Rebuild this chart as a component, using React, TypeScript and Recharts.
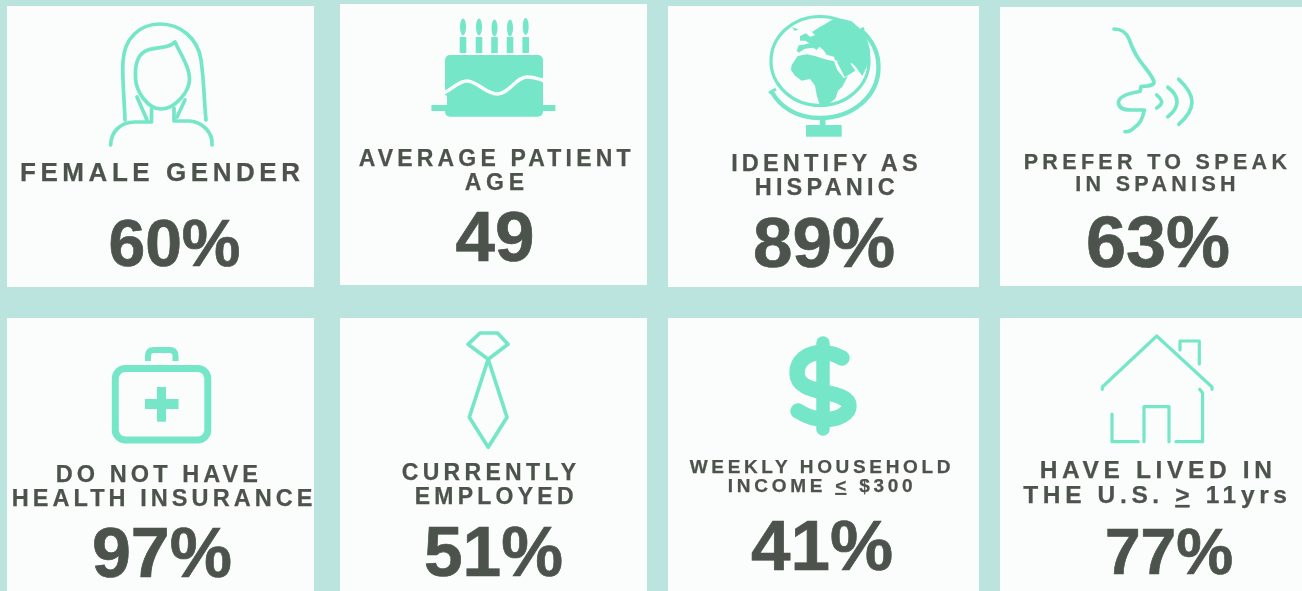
import React from "react";
import { ScatterChart, Scatter, XAxis, YAxis } from "recharts";

// ---- content ----
const labels: string[][] = [
  ["FEMALE GENDER"],
  ["AVERAGE PATIENT", "AGE"],
  ["IDENTIFY AS", "HISPANIC"],
  ["PREFER TO SPEAK", "IN SPANISH"],
  ["DO NOT HAVE", "HEALTH INSURANCE"],
  ["CURRENTLY", "EMPLOYED"],
  ["WEEKLY HOUSEHOLD", "INCOME < $300"],
  ["HAVE LIVED IN", "THE U.S. > 11yrs"],
];
const values = ["60%", "49", "89%", "63%", "97%", "51%", "41%", "77%"];

// ---- layout and style ----
const W = 1302;
const H = 591;
const BG = "#bbe4df";
const CARD = "#fbfdfc";
const ICON = "#76e6c8";
const INK = "#4c534c";
const FONT = "'Liberation Sans', Arial, sans-serif";

// left, top, right, bottom
const cardBoxes = [
  [7, 6, 314, 287], [340, 4, 647, 285], [668, 6, 979, 287], [1000, 7, 1302, 286],
  [7, 318, 314, 591], [340, 318, 647, 591], [668, 318, 979, 591], [1000, 318, 1302, 591],
];
// per line: left, right, baseline, font size
const labelBoxes = [
  [[20, 300, 181, 26]],
  [[358.7, 630.5, 165.5, 23], [464.7, 524, 190, 23]],
  [[731.2, 917.6, 171, 23.5], [754.7, 894.7, 195, 23.5]],
  [[1023.7, 1287, 169, 21.5], [1075.2, 1235.6, 191, 21.5]],
  [[55.7, 258, 482, 23.5], [11.7, 312.5, 506, 23.5]],
  [[401.7, 576, 479.5, 23], [414.7, 573.5, 503.5, 23]],
  [[689.7, 950.5, 473, 19], [727.7, 912.7, 492, 19]],
  [[1039.7, 1272, 478, 24.5], [1023.2, 1287, 503, 24.5]],
];
// per value: centre, baseline, font size
const valueBoxes = [
  [174.5, 266, 66], [495, 261, 71], [824, 267, 71], [1158, 267, 72],
  [162, 577, 70], [493.5, 576, 69.5], [822, 570, 71], [1169, 574, 64],
];

const line = { fill: "none", stroke: ICON, strokeWidth: 3.7, strokeLinecap: "round" as const, strokeLinejoin: "round" as const };

function Woman() {
  return (
    <g {...line}>
      <path d="M125 120 C124 95 122 75 123 62 C124 38 140 24 160 24 C180 24 198 38 201 60 C204 80 204 100 206 120" />
      <path d="M175 42 C168 50 152 46 144 52 C136 57 135 68 135.5 78 C136 92 148 109 161 109 C175 109 189 92 189.5 80 C190 68 181 55 175 42Z" />
      <path d="M137 97 L147 120" />
      <path d="M151.5 109 V122 H135 C120 122 111 132 110.7 145" />
      <path d="M174 108 V121 H189.5 C203 122 213 133 212 145" />
      <path d="M185 100 L177 117" />
    </g>
  );
}
function Cake() {
  const candles = [[463, 27], [479, 27], [494.5, 28], [510, 28], [525.7, 26.5]];
  return (
    <g fill={ICON}>
      {candles.map(([x, y]) => (
        <g key={x}>
          <rect x={x - 3.3} y={37} width={6.6} height={16} />
          <ellipse cx={x} cy={y} rx={3} ry={8.5} />
        </g>
      ))}
      <rect x={445} y={55} width={98} height={61.7} rx={5} />
      <rect x={431.4} y={105} width={124} height={6} />
      <path d="M443 93 C452 90 458 81 467 81 C477 81 486 94 497 94 C509 94 516 77 527 77 C534 77 539 79 545 81" fill="none" stroke={CARD} strokeWidth={3.6} />
      <path d="M441 92 L447 96 V105 H441 Z" fill={CARD} />
    </g>
  );
}
function Globe() {
  return (
    <g>
      <ellipse cx={820} cy={61} rx={49} ry={44.5} fill="none" stroke={ICON} strokeWidth={3.2} />
      <path d="M861.5 30.5 C873 41 878.5 54 878.5 67 C878.5 96 853 118 820 118 C797 118 780 107 771.5 91.5" fill="none" stroke={ICON} strokeWidth={4.4} />
      <path d="M857 33 L864 28 M769 93 L776 89" stroke={ICON} strokeWidth={3} />
      <rect x={820} y={117} width={5.5} height={9} fill={ICON} />
      <rect x={806} y={125} width={35.7} height={11.7} fill={ICON} />
      <g transform="translate(760 10) scale(0.3333)" fill={ICON}>
        <path d="M116 128 L110 122 L116 106 L130 104 L148 100 L136 92 L120 92 L120 78 L138 70 L150 80 L165 76 L156 66 L178 52 L196 42 L215 30 L245 26 L275 34 L302 58 L322 90 L331 125 L325 160 L307 198 L298 186 L288 172 L276 160 L262 162 L240 156 L225 150 L222 140 L200 134 L190 120 L178 110 L170 120 L160 113 L135 116 Z" />
        <path d="M95 165 L113 138 L140 133 L165 138 L195 148 L222 154 L232 180 L252 205 L264 198 L247 230 L234 242 L227 265 L207 282 L180 287 L170 255 L165 227 L150 207 L125 212 L105 197 L93 180 Z" />
        <path d="M230 154 L270 158 L286 182 L254 202 Z" />
        <path d="M96 52 L116 58 L104 63 Z" />
        <path d="M45 212 L58 218 L70 236 L56 232 Z" />
      </g>
    </g>
  );
}
function Face() {
  return (
    <g {...line}>
      <path d="M1114 29 C1122 29 1126 32 1129 39 C1132 47 1134 52 1138 58 C1144 67 1153 76 1154 82 C1154 86 1148 86 1141 86.5 L1140 91.5 C1130 93 1118 96 1118.5 103 C1119 109 1125 110 1131 110 L1144.4 110 C1143 117 1140 124 1135 127 C1132 130 1128 132 1125 131.7" />
      <path d="M1156.7 95 C1160 98 1161.6 100 1161.6 101.7 C1161.6 104 1160 106 1156.7 108" />
      <path d="M1167.8 87.3 C1174 92 1177 97 1177 101.7 C1177 107 1174 112 1167.8 116.7" />
      <path d="M1178.8 79.3 C1187 87 1192 95 1192 101.7 C1192 109 1187 117 1178.8 124.3" />
    </g>
  );
}
function Medkit() {
  return (
    <g>
      <rect x={115.3} y={368.5} width={92.5} height={71.5} rx={10} fill="none" stroke={ICON} strokeWidth={7} />
      <path d="M148 361 V356 Q148 350 154 350 H169.5 Q175.5 350 175.5 356 V361" fill="none" stroke={ICON} strokeWidth={6} />
      <rect x={157} y={387} width={9} height={34.7} fill={ICON} />
      <rect x={145} y={399} width={33.5} height={10} fill={ICON} />
    </g>
  );
}
function Tie() {
  return (
    <g {...line} strokeWidth={3.7}>
      <path d="M480 333 H497.5 L508 344.3 L488.2 359.3 L468 344.3 Z" />
      <path d="M488.2 359.3 L507 417.3 L488.2 447.3 L469.3 417.3 Z" />
    </g>
  );
}
function Dollar() {
  return (
    <g {...line} strokeWidth={15.5}>
      <path d="M842 358 C835 354 829 352.5 822 352.5 C807 352.5 797 361 797 373 C797 386 811 389 824 392 C838 395 849 398 849 406 C849 414 838 419.5 825 419.5 C815 419.5 806 416 798 411" />
      <path d="M823 343 V429" strokeWidth={13.5} />
    </g>
  );
}
function House() {
  return (
    <g {...line} strokeWidth={3.2}>
      <path d="M1102.3 389.3 V387 L1156.7 336 L1212 387 V389.3" />
      <path d="M1180 350 V341 H1199.3 V364" />
      <path d="M1199.7 389.3 L1202.6 393 V441.7 H1176" />
      <path d="M1112 414 V441.7 H1138.3" />
      <path d="M1144 441.7 V406.7 H1169 V441.7" />
    </g>
  );
}
const icons = [Woman, Cake, Globe, Face, Medkit, Tie, Dollar, House];

function LabelLine({ text, box }: { text: string; box: number[] }) {
  const [l, r, base, size] = box;
  const parts = text.split(/([<>])/);
  return (
    <text
      x={l}
      y={base}
      fontFamily={FONT}
      fontWeight={700}
      fontSize={size}
      fill={INK}
      stroke={INK}
      strokeWidth={0.25}
      textLength={r - l}
      lengthAdjust="spacing"
    >
      {parts.map((p, i) =>
        p === "<" || p === ">" ? (
          <tspan key={i} textDecoration="underline">{p}</tspan>
        ) : (
          <tspan key={i}>{p}</tspan>
        )
      )}
    </text>
  );
}

function Card(props: any) {
  const { payload } = props;
  const i: number = payload.index;
  const [l, t, r, b] = cardBoxes[i];
  const Icon = icons[i];
  const [vx, vy, vs] = valueBoxes[i];
  return (
    <g>
      <rect x={props.cx - (r - l) / 2} y={props.cy - (b - t) / 2} width={r - l} height={b - t} fill={CARD} />
      <Icon />
      {payload.lines.map((text: string, k: number) => (
        <LabelLine key={k} text={text} box={labelBoxes[i][k]} />
      ))}
      <text x={vx} y={vy} textAnchor="middle" fontFamily={FONT} fontWeight={700} fontSize={vs} fill={INK} stroke={INK} strokeWidth={0.7}>
        {payload.value}
      </text>
    </g>
  );
}

const cards = labels.map((lines, index) => ({
  index,
  lines,
  value: values[index],
  x: (cardBoxes[index][0] + cardBoxes[index][2]) / 2,
  y: (cardBoxes[index][1] + cardBoxes[index][3]) / 2,
}));

export default function App() {
  return (
    <div style={{ position: "absolute", left: 0, top: 0, width: W, height: H, background: BG, overflow: "hidden", filter: "blur(0.35px)" }}>
      <ScatterChart width={W} height={H} margin={{ top: 0, right: 0, bottom: 0, left: 0 }}>
        <XAxis type="number" dataKey="x" domain={[0, W]} hide />
        <YAxis type="number" dataKey="y" domain={[0, H]} reversed hide />
        <Scatter data={cards} isAnimationActive={false} shape={Card} />
      </ScatterChart>
    </div>
  );
}
